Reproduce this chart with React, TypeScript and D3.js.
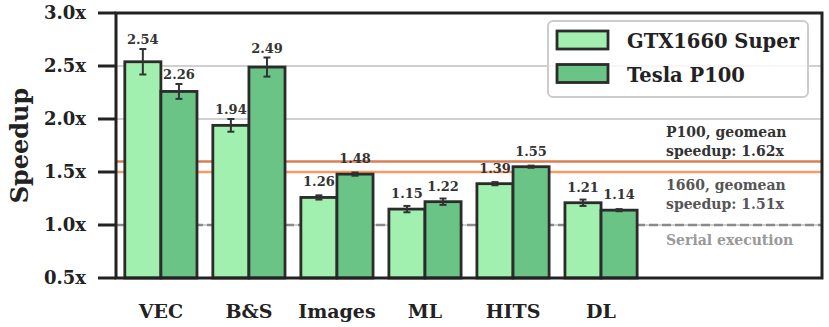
import React from 'react';
import * as d3 from 'd3';

const categories = ['VEC', 'B&S', 'Images', 'ML', 'HITS', 'DL'];
const gtxValues = [2.54, 1.94, 1.26, 1.15, 1.39, 1.21];
const gtxErrors = [0.12, 0.06, 0.02, 0.03, 0.015, 0.03];
const p100Values = [2.26, 2.49, 1.48, 1.22, 1.55, 1.14];
const p100Errors = [0.07, 0.09, 0.015, 0.03, 0.01, 0.01];
const seriesNames = ['GTX1660 Super', 'Tesla P100'];
const yTicks = [0.5, 1.0, 1.5, 2.0, 2.5, 3.0];
const p100Geomean = 1.6;
const gtxGeomean = 1.5;
const serialLine = 1.0;

const W = 829;
const H = 327;
const margin = { top: 13, right: 7, bottom: 49, left: 116 };
const FONT = '"DejaVu Serif", serif';
const LIGHT = '#a2f0b0';
const DARK = '#6ac485';
const EDGE = '#2b2b2b';

export default function App() {
  const x = d3.scaleLinear().domain([-0.51, 7.51]).range([margin.left, W - margin.right]);
  const y = d3.scaleLinear().domain([0.5, 3.0]).range([H - margin.bottom, margin.top]);
  const bw = 0.41;
  const barW = x(bw) - x(0);

  const series = [
    { values: gtxValues, errors: gtxErrors, color: LIGHT, offset: -bw / 2 },
    { values: p100Values, errors: p100Errors, color: DARK, offset: bw / 2 },
  ];

  const left = margin.left;
  const right = W - margin.right;
  const top = margin.top;
  const bottom = H - margin.bottom;

  return (
    <svg width={W} height={H} style={{ position: 'absolute', left: 0, top: 0 }} fontFamily={FONT} fontWeight="bold">
      <rect width={W} height={H} fill="white" />
      {/* grid */}
      {yTicks.map(t => (
        <line key={t} x1={left} x2={right} y1={y(t)} y2={y(t)} stroke="#d0d0d0" strokeWidth={2} />
      ))}
      {/* reference lines */}
      <line x1={left} x2={right} y1={y(serialLine)} y2={y(serialLine)} stroke="#8a8a8a" strokeWidth={2.5} strokeDasharray="9,4" />
      <line x1={left} x2={right} y1={y(p100Geomean)} y2={y(p100Geomean)} stroke="#dc7e52" strokeWidth={2.5} />
      <line x1={left} x2={right} y1={y(gtxGeomean)} y2={y(gtxGeomean)} stroke="#f99a67" strokeWidth={2.5} />

      {/* bars */}
      {series.map((s, si) =>
        categories.map((c, i) => {
          const cx = x(i + s.offset);
          const v = s.values[i];
          const e = s.errors[i];
          const errTop = y(v + e);
          const labelY = Math.min(errTop - 5, y(v) - 11);
          return (
            <g key={`${si}-${c}`}>
              <rect x={cx - barW / 2} y={y(v)} width={barW} height={bottom - y(v)} fill={s.color} stroke={EDGE} strokeWidth={2.8} />
              <line x1={cx} x2={cx} y1={y(v - e)} y2={errTop} stroke="#333" strokeWidth={2} />
              <line x1={cx - 3.5} x2={cx + 3.5} y1={errTop} y2={errTop} stroke="#333" strokeWidth={2} />
              <line x1={cx - 3.5} x2={cx + 3.5} y1={y(v - e)} y2={y(v - e)} stroke="#333" strokeWidth={2} />
              <text x={cx} y={labelY} textAnchor="middle" fontSize={13} fill="#333">{v.toFixed(2)}</text>
            </g>
          );
        })
      )}

      {/* annotations */}
      <g fontSize={14}>
        <text x={666} y={137} fill="#333">P100, geomean</text>
        <text x={666} y={156} fill="#333">speedup: 1.62x</text>
        <text x={666} y={189.5} fill="#555">1660, geomean</text>
        <text x={666} y={208.5} fill="#555">speedup: 1.51x</text>
        <text x={666} y={245} fill="#999">Serial execution</text>
      </g>

      {/* legend */}
      <g>
        <rect x={548} y={21} width={260} height={76} rx={5} fill="white" fillOpacity={0.8} stroke="#cccccc" strokeWidth={2} />
        {seriesNames.map((n, i) => (
          <g key={n} transform={`translate(557,${31 + i * 33.5})`}>
            <rect width={51} height={18} fill={i === 0 ? LIGHT : DARK} stroke={EDGE} strokeWidth={2.8} />
            <text x={70} y={17} fontSize={19.5} fill="#222">{n}</text>
          </g>
        ))}
      </g>

      {/* frame */}
      <rect x={left} y={top} width={right - left} height={bottom - top} fill="none" stroke="#222" strokeWidth={3} />

      {/* y axis */}
      {yTicks.map(t => (
        <g key={t}>
          <line x1={98} x2={left} y1={y(t)} y2={y(t)} stroke="#222" strokeWidth={3} />
          <text x={86} y={y(t)} dy="0.36em" textAnchor="end" fontSize={18} fill="#222">{t.toFixed(1)}x</text>
        </g>
      ))}
      <text transform={`translate(28,${(top + bottom) / 2}) rotate(-90)`} textAnchor="middle" fontSize={24} fill="#222">Speedup</text>

      {/* x axis labels */}
      {categories.map((c, i) => (
        <text key={c} x={x(i)} y={318} textAnchor="middle" fontSize={19} fill="#222">{c}</text>
      ))}
    </svg>
  );
}
